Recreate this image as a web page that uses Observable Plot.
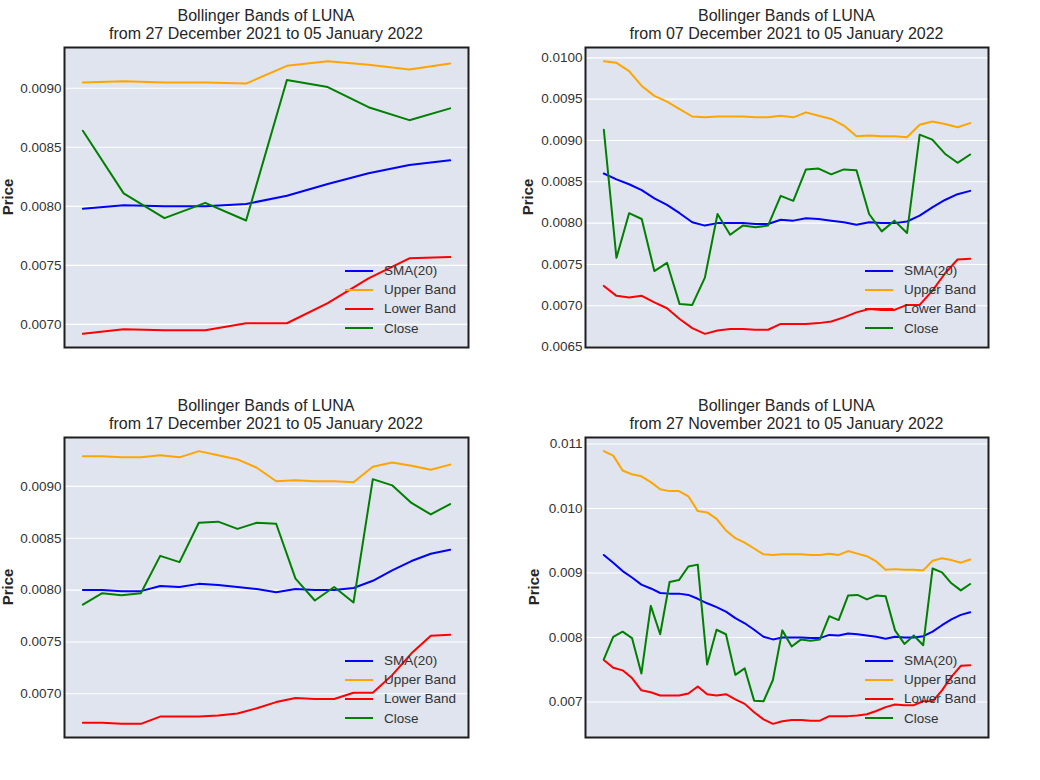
<!DOCTYPE html>
<html>
<head>
<meta charset="utf-8">
<script src="https://cdn.jsdelivr.net/npm/d3@7"></script>
<script src="https://cdn.jsdelivr.net/npm/@observablehq/plot@0.6"></script>
<style>
  body { margin: 0; background: #fff; font-family: "Liberation Sans", Arial, sans-serif; }
  #root { position: relative; width: 1040px; height: 780px; overflow: hidden; }
  .panel { position: absolute; width: 520px; height: 390px; }
  .panel svg { position: absolute; left: 0; top: 0; }
  .title { position: absolute; text-align: center; font-size: 16px; line-height: 17.5px; color: #262626; white-space: nowrap; }
  .ylab { position: absolute; font-size: 15px; font-weight: bold; color: #262626; transform: translate(-50%, -50%) rotate(-90deg); white-space: nowrap; }
  .legend { position: absolute; font-size: 13.5px; color: #333; }
  .legend .row { display: flex; align-items: center; height: 19.2px; }
  .legend .sw { width: 28px; height: 2.2px; margin-right: 11px; }
</style>
</head>
<body>
<div id="root"></div>
<script>
// ---- data (27 Nov 2021 .. 05 Jan 2022, daily) ----
const startDate = "2021-11-27";
const seriesNames = ["SMA(20)", "Upper Band", "Lower Band", "Close"];
const seriesColors = ["blue", "orange", "red", "green"];

const smaValues = [
  0.00928, 0.00916, 0.00903, 0.00893, 0.00882, 0.00876, 0.00869, 0.00868, 0.00868, 0.00866,
  0.00860, 0.00853, 0.00847, 0.00840, 0.00830, 0.00822, 0.00812, 0.00801, 0.00797, 0.00800,
  0.00800, 0.00800, 0.00799, 0.00799, 0.00804, 0.00803, 0.00806, 0.00805, 0.00803, 0.00801,
  0.00798, 0.00801, 0.00800, 0.00800, 0.00802, 0.00809, 0.00819, 0.00828, 0.00835, 0.00839
];
const upperValues = [
  0.01089, 0.01082, 0.01059, 0.01053, 0.01050, 0.01041, 0.01030, 0.01027, 0.01027, 0.01019,
  0.00996, 0.00994, 0.00984, 0.00966, 0.00954, 0.00947, 0.00938, 0.00929, 0.00928, 0.00929,
  0.00929, 0.00929, 0.00928, 0.00928, 0.00930, 0.00928, 0.00934, 0.00930, 0.00926, 0.00918,
  0.00905, 0.00906, 0.00905, 0.00905, 0.00904, 0.00919, 0.00923, 0.00920, 0.00916, 0.00921
];
const lowerValues = [
  0.00765, 0.00753, 0.00749, 0.00737, 0.00718, 0.00715, 0.00710, 0.00710, 0.00710, 0.00713,
  0.00724, 0.00712, 0.00710, 0.00712, 0.00704, 0.00697, 0.00684, 0.00673, 0.00666, 0.00670,
  0.00672, 0.00672, 0.00671, 0.00671, 0.00678, 0.00678, 0.00678, 0.00679, 0.00681, 0.00686,
  0.00692, 0.00696, 0.00695, 0.00695, 0.00701, 0.00701, 0.00718, 0.00739, 0.00756, 0.00757
];
const closeValues = [
  0.00766, 0.00801, 0.00809, 0.00799, 0.00744, 0.00849, 0.00805, 0.00886, 0.00889, 0.00910,
  0.00913, 0.00758, 0.00812, 0.00805, 0.00742, 0.00752, 0.00702, 0.00701, 0.00734, 0.00811,
  0.00786, 0.00797, 0.00795, 0.00797, 0.00833, 0.00827, 0.00865, 0.00866, 0.00859, 0.00865,
  0.00864, 0.00811, 0.00790, 0.00803, 0.00788, 0.00907, 0.00901, 0.00884, 0.00873, 0.00883
];

// panel windows (days) and y tick labels
const panelDays = [10, 30, 20, 40];
const panelTitles = [
  "from 27 December 2021 to 05 January 2022",
  "from 07 December 2021 to 05 January 2022",
  "from 17 December 2021 to 05 January 2022",
  "from 27 November 2021 to 05 January 2022"
];
const ticksA = [0.0070, 0.0075, 0.0080, 0.0085, 0.0090];
const ticksB = [0.0065, 0.0070, 0.0075, 0.0080, 0.0085, 0.0090, 0.0095, 0.0100];
const ticksC = [0.0070, 0.0075, 0.0080, 0.0085, 0.0090];
const ticksD = [0.007, 0.008, 0.009, 0.010, 0.011];
const panelTicks = [ticksA, ticksB, ticksC, ticksD];
const panelFormats = [".4f", ".4f", ".4f", ".3f"];

// ---- build ----
const allSeries = [smaValues, upperValues, lowerValues, closeValues];
const t0 = new Date(startDate + "T00:00:00Z");
const dates = closeValues.map((_, i) => d3.utcDay.offset(t0, i));
const total = closeValues.length;

const root = document.getElementById("root");
const W = 520, H = 390;
const layout = [
  {left: 0, top: 0, ml: 64, mr: 52, mt: 47, mb: 43, ylabX: 7},
  {left: 520, top: 0, ml: 65, mr: 52, mt: 47, mb: 43, ylabX: 7},
  {left: 0, top: 390, ml: 64, mr: 52, mt: 47, mb: 43, ylabX: 7},
  {left: 520, top: 390, ml: 65, mr: 52, mt: 47, mb: 43, ylabX: 13}
];

function pad(ext) {
  const r = ext[1] - ext[0];
  return [ext[0] - 0.05 * r, ext[1] + 0.05 * r];
}

panelDays.forEach((n, p) => {
  const L = layout[p];
  const start = total - n;
  const rows = [];
  allSeries.forEach((vals, s) => {
    for (let i = start; i < total; i++) rows.push({date: dates[i], series: seriesNames[s], value: vals[i]});
  });
  const yExt = pad(d3.extent(rows, d => d.value));
  const xExt = d3.extent(rows, d => d.date);
  const xr = xExt[1] - xExt[0];
  const xDom = [new Date(+xExt[0] - 0.05 * xr), new Date(+xExt[1] + 0.05 * xr)];

  const panel = document.createElement("div");
  panel.className = "panel";
  panel.style.left = L.left + "px";
  panel.style.top = L.top + "px";
  root.appendChild(panel);

  const chart = Plot.plot({
    width: W, height: H,
    marginLeft: L.ml, marginRight: L.mr, marginTop: L.mt, marginBottom: L.mb,
    style: {fontFamily: '"Liberation Sans", Arial, sans-serif', fontSize: "13.5px", color: "#333", background: "transparent"},
    x: {type: "utc", domain: xDom, axis: null},
    y: {domain: yExt, axis: null},
    color: {domain: seriesNames, range: seriesColors},
    marks: [
      Plot.frame({fill: "#dfe4ee"}),
      Plot.gridY(panelTicks[p], {stroke: "#fff", strokeOpacity: 1, strokeWidth: 1.1}),
      Plot.axisY(panelTicks[p], {tickSize: 0, tickPadding: 3, tickFormat: d3.format(panelFormats[p]), label: null, fill: "#333"}),
      Plot.line(rows, {x: "date", y: "value", z: "series", stroke: "series", strokeWidth: 2}),
      Plot.frame({stroke: "#1e1e1e", strokeWidth: 2})
    ]
  });
  panel.appendChild(chart);

  const plotLeft = L.ml, plotRight = W - L.mr, plotTop = L.mt, plotBottom = H - L.mb;

  const title = document.createElement("div");
  title.className = "title";
  title.style.left = plotLeft + "px";
  title.style.width = (plotRight - plotLeft) + "px";
  title.style.top = "7px";
  title.innerHTML = "Bollinger Bands of LUNA<br>" + panelTitles[p];
  panel.appendChild(title);

  const ylab = document.createElement("div");
  ylab.className = "ylab";
  ylab.textContent = "Price";
  ylab.style.left = L.ylabX + "px";
  ylab.style.top = ((plotTop + plotBottom) / 2) + "px";
  panel.appendChild(ylab);

  const legend = document.createElement("div");
  legend.className = "legend";
  legend.style.left = (plotRight - 123) + "px";
  legend.style.top = (plotBottom - 86) + "px";
  seriesNames.forEach((name, s) => {
    const row = document.createElement("div");
    row.className = "row";
    const sw = document.createElement("div");
    sw.className = "sw";
    sw.style.background = seriesColors[s];
    const tx = document.createElement("span");
    tx.textContent = name;
    row.appendChild(sw); row.appendChild(tx);
    legend.appendChild(row);
  });
  panel.appendChild(legend);
});
</script>
</body>
</html>
